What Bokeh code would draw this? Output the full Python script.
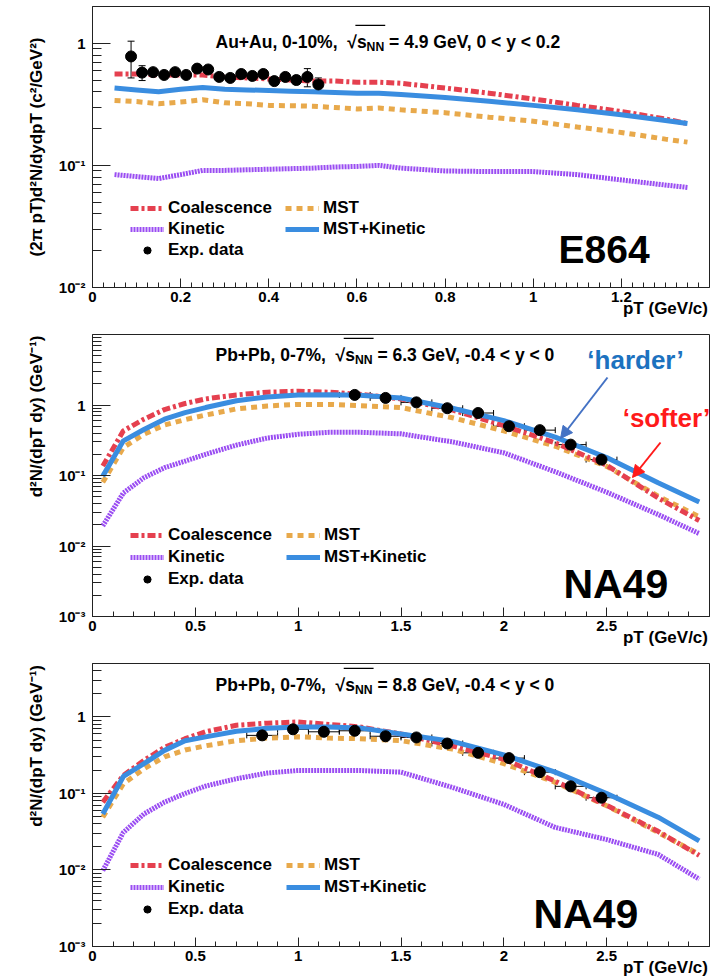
import math
from bokeh.plotting import figure
from bokeh.layouts import column
from bokeh.models import (Range1d, FixedTicker, CustomJSTickFormatter, Label, Legend, LegendItem,
                          Whisker, TeeHead, ColumnDataSource, Arrow, NormalHead, BoxAnnotation)
from bokeh.embed import file_html
from bokeh.resources import INLINE

FONT = "Liberation Sans"
C_COAL = "#E5404F"
C_MST = "#E8A94B"
C_KIN = "#9A4DF2"
C_MK = "#3A8DE0"

# ---------------- E864 (Au+Au 4.9 GeV) ----------------
pt_top = [0.05, 0.10, 0.15, 0.20, 0.25, 0.30, 0.35, 0.40, 0.45, 0.50, 0.55, 0.60, 0.65, 0.70,
          0.80, 0.90, 1.00, 1.10, 1.20, 1.30, 1.35]
coal_top = [0.56, 0.56, 0.55, 0.55, 0.55, 0.53, 0.52, 0.51, 0.50, 0.49, 0.49, 0.48, 0.48, 0.47,
            0.43, 0.39, 0.35, 0.31, 0.276, 0.24, 0.22]
mst_top = [0.34, 0.333, 0.32, 0.33, 0.345, 0.325, 0.32, 0.31, 0.308, 0.305, 0.298, 0.29, 0.295, 0.285,
           0.27, 0.248, 0.23, 0.206, 0.186, 0.164, 0.155]
kin_top = [0.084, 0.081, 0.078, 0.084, 0.091, 0.091, 0.092, 0.093, 0.094, 0.095, 0.097, 0.098, 0.100, 0.095,
           0.090, 0.089, 0.089, 0.084, 0.076, 0.069, 0.066]
mk_top = [0.43, 0.415, 0.40, 0.42, 0.435, 0.42, 0.415, 0.41, 0.405, 0.40, 0.395, 0.39, 0.39, 0.38,
          0.36, 0.335, 0.31, 0.285, 0.26, 0.233, 0.22]
exp_pt_top = [0.0875, 0.1125, 0.1375, 0.1625, 0.1875, 0.2125, 0.2375, 0.2625, 0.2875, 0.3125,
              0.3375, 0.3625, 0.3875, 0.4125, 0.4375, 0.4625, 0.4875, 0.5125]
exp_y_top = [0.78, 0.575, 0.58, 0.55, 0.58, 0.55, 0.62, 0.61, 0.53, 0.52,
             0.56, 0.54, 0.56, 0.49, 0.53, 0.50, 0.53, 0.46]
exp_err_top = [0.26, 0.08, 0.03, 0.03, 0.03, 0.03, 0.03, 0.03, 0.03, 0.03,
               0.03, 0.03, 0.03, 0.03, 0.03, 0.04, 0.09, 0.06]

# ---------------- NA49 (Pb+Pb 6.3 GeV) ----------------
pt_mid = [0.05, 0.15, 0.25, 0.35, 0.45, 0.55, 0.70, 0.85, 1.00, 1.15, 1.30, 1.50, 1.75, 2.00,
          2.25, 2.50, 2.75, 2.95]
coal_mid = [0.136, 0.43, 0.63, 0.86, 1.05, 1.22, 1.39, 1.52, 1.57, 1.52, 1.42, 1.22, 0.85, 0.51,
            0.29, 0.14, 0.048, 0.023]
mst_mid = [0.080, 0.25, 0.385, 0.52, 0.62, 0.72, 0.88, 0.97, 1.02, 1.02, 0.98, 0.92, 0.66, 0.43,
           0.26, 0.135, 0.051, 0.026]
kin_mid = [0.0193, 0.0565, 0.093, 0.129, 0.16, 0.20, 0.27, 0.34, 0.385, 0.41, 0.41, 0.39, 0.30, 0.21,
           0.113, 0.058, 0.028, 0.015]
mk_mid = [0.098, 0.31, 0.45, 0.63, 0.78, 0.92, 1.15, 1.30, 1.39, 1.40, 1.38, 1.26, 0.90, 0.60,
          0.35, 0.18, 0.079, 0.042]
exp_pt_mid = [1.275, 1.425, 1.575, 1.725, 1.875, 2.025, 2.175, 2.325, 2.475]
exp_y_mid = [1.39, 1.26, 1.09, 0.90, 0.77, 0.50, 0.44, 0.274, 0.168]
exp_xerr_mid = [0.075, 0.075, 0.075, 0.075, 0.075, 0.075, 0.075, 0.075, 0.075]

# ---------------- NA49 (Pb+Pb 8.8 GeV) ----------------
pt_bot = [0.05, 0.15, 0.25, 0.35, 0.45, 0.55, 0.70, 0.85, 1.00, 1.15, 1.30, 1.50, 1.75, 2.00,
          2.25, 2.50, 2.75, 2.95]
coal_bot = [0.077, 0.172, 0.27, 0.40, 0.52, 0.64, 0.78, 0.83, 0.86, 0.80, 0.74, 0.60, 0.42, 0.28,
            0.145, 0.07, 0.032, 0.0155]
mst_bot = [0.049, 0.134, 0.21, 0.30, 0.37, 0.42, 0.49, 0.53, 0.55, 0.53, 0.52, 0.49, 0.38, 0.245,
           0.14, 0.069, 0.031, 0.016]
kin_bot = [0.0098, 0.031, 0.054, 0.077, 0.10, 0.125, 0.156, 0.185, 0.20, 0.20, 0.20, 0.19, 0.12, 0.072,
           0.036, 0.025, 0.016, 0.0076]
mk_bot = [0.054, 0.167, 0.245, 0.366, 0.49, 0.55, 0.65, 0.71, 0.74, 0.74, 0.72, 0.60, 0.48, 0.32,
          0.19, 0.10, 0.049, 0.024]
exp_pt_bot = [0.825, 0.975, 1.125, 1.275, 1.425, 1.575, 1.725, 1.875, 2.025, 2.175, 2.325, 2.475]
exp_y_bot = [0.575, 0.69, 0.64, 0.66, 0.56, 0.54, 0.45, 0.34, 0.29, 0.19, 0.124, 0.088]
exp_xerr_bot = [0.075, 0.075, 0.075, 0.075, 0.075, 0.075, 0.075, 0.075, 0.075, 0.075, 0.075, 0.075]

LEGEND_LABELS = ["Coalescence", "MST", "Kinetic", "MST+Kinetic", "Exp. data"]
XTITLE = "pT (GeV/c)"
YTITLE_TOP = "(2π pT)d²N/dydpT (c²/GeV²)"
YTITLE_NA49 = "d²N/(dpT dy) (GeV⁻¹)"

# Arial/Liberation Sans Bold advance widths (1/1000 em)
W = {' ': 278, '\u00a0': 278, '(': 333, ')': 333, '+': 584, ',': 278, '-': 333, '.': 278, '/': 278,
     '<': 584, '=': 584, '>': 584, '%': 889, 'π': 600, '√': 549, '²': 333, '⁻': 333, '¹': 333}
for ch in "0123456789":
    W[ch] = 556
W.update(dict(zip("ABCDEFGHIJKLMNOPQRSTUVWXYZ",
                  [722, 722, 722, 722, 667, 611, 778, 722, 278, 556, 722, 611, 833, 722, 778, 667,
                   778, 722, 667, 611, 722, 667, 944, 667, 667, 611])))
W.update(dict(zip("abcdefghijklmnopqrstuvwxyz",
                  [556, 611, 556, 611, 556, 333, 611, 611, 278, 278, 556, 278, 889, 611, 611, 611,
                   611, 389, 556, 333, 611, 556, 778, 556, 556, 500])))


def tw(s, size):
    return sum(W.get(c, 600) for c in s) / 1000.0 * size


def small(size):
    return round(size * 0.7, 1)


def rich(p, pieces, x0, y0, size, color="black"):
    pos = 0.0
    for txt, kind in pieces:
        fs = size if kind == "n" else small(size)
        off = {"n": 0.0, "sub": -0.32 * size, "sup": 0.42 * size}[kind]
        stripped = txt.lstrip(" ")
        pos += (len(txt) - len(stripped)) * W[' '] / 1000.0 * fs
        core = stripped.rstrip(" ")
        if core:
            p.add_layout(Label(x=x0 + pos, y=y0 + off, x_units="screen", y_units="screen", text=core,
                               text_font=FONT, text_font_style="bold", text_font_size=f"{fs}px",
                               text_color=color, text_align="left", text_baseline="alphabetic"))
        pos += tw(stripped, fs)
    return pos


def header(p, pre, post, x0, y0, size):
    rich(p, [(pre, "n"), ("√", "n"), ("s", "n"), ("NN", "sub"), (post, "n")], x0, y0, size)
    xs = x0 + tw(pre + "√", size) - 1.5
    xe = x0 + tw(pre + "√s", size) + tw("NN", small(size)) + 1
    top = y0 + 0.74 * size + 2.5
    p.add_layout(BoxAnnotation(left=xs, right=xe, bottom=top, top=top + 1.4,
                               left_units="screen", right_units="screen",
                               bottom_units="screen", top_units="screen",
                               fill_color="black", fill_alpha=1.0, line_alpha=0.0))


def set_axis_title(ax, text, where, frame_len, size):
    """where: 'end' (ROOT style: flush with right / top end of the axis) or 'center'."""
    ax.axis_label_text_font = FONT
    ax.axis_label_text_font_style = "bold"
    ax.axis_label_text_font_size = f"{size}px"
    ax.axis_label_text_color = "black"
    if where == "center":
        ax.axis_label = text
        return
    w = tw(text, size)
    n = max(0, int(round((frame_len - w - 4) / (W['\u00a0'] / 1000.0 * size))))
    ax.axis_label = "\u00a0" * n + text


YFMT = CustomJSTickFormatter(code="""
const e = Math.round(Math.log10(tick));
if (e === 0) { return "1"; }
const sup = {"-": "\\u207b", "0": "\\u2070", "1": "\\u00b9", "2": "\\u00b2", "3": "\\u00b3"};
return "10" + String(e).split("").map(c => sup[c]).join("");
""")
XFMT = CustomJSTickFormatter(code="return String(Math.round(tick * 100) / 100);")


def make_panel(pt, coal, mst, kin, mk, xmax, ymin, ymax, xmajor, xminor_step,
               height, btop, bbot):
    p = figure(width=718, height=height, x_range=Range1d(0, xmax), y_range=Range1d(ymin, ymax),
               y_axis_type="log", output_backend="svg", toolbar_location=None,
               min_border_left=92, min_border_right=9, min_border_top=btop, min_border_bottom=bbot)
    p.xgrid.visible = False
    p.ygrid.visible = False
    p.outline_line_color = "#222222"
    p.outline_line_width = 1
    p.background_fill_color = "white"
    p.border_fill_color = "white"

    nmin = int(round(xmax / xminor_step))
    p.xaxis.ticker = FixedTicker(ticks=xmajor, minor_ticks=[i * xminor_step for i in range(nmin + 1)])
    p.xaxis.formatter = XFMT
    ymaj = [10.0 ** e for e in range(-3, 1) if ymin <= 10.0 ** e <= ymax]
    ymin_t = [m * 10.0 ** e for e in range(-3, 1) for m in range(2, 10) if ymin <= m * 10.0 ** e <= ymax]
    p.yaxis.ticker = FixedTicker(ticks=ymaj, minor_ticks=ymin_t)
    p.yaxis.formatter = YFMT
    for ax, mj, mn, so in ((p.xaxis[0], 9, 5, 4), (p.yaxis[0], 18, 9, 7)):
        ax.axis_line_color = "#222222"
        ax.major_tick_line_color = "#222222"
        ax.minor_tick_line_color = "#222222"
        ax.major_tick_in = mj
        ax.major_tick_out = 0
        ax.minor_tick_in = mn
        ax.minor_tick_out = 0
        ax.major_label_text_font = FONT
        ax.major_label_text_font_style = "bold"
        ax.major_label_text_font_size = "15px"
        ax.major_label_text_color = "black"
        ax.major_label_standoff = so
    p.xaxis[0].axis_label_standoff = -6
    p.yaxis[0].axis_label_standoff = 10

    r_kin = p.line(pt, kin, line_color=C_KIN, line_width=5, line_dash="2 1")
    r_mst = p.line(pt, mst, line_color=C_MST, line_width=5, line_dash="6 5")
    r_coal = p.line(pt, coal, line_color=C_COAL, line_width=5, line_dash="8 3 3 3")
    r_mk = p.line(pt, mk, line_color=C_MK, line_width=5)
    return p, r_coal, r_mst, r_kin, r_mk


def add_legend(p, rends, loc, spacing):
    r_coal, r_mst, r_kin, r_mk, r_exp = rends
    items = [LegendItem(label=LEGEND_LABELS[0], renderers=[r_coal]),
             LegendItem(label=LEGEND_LABELS[2], renderers=[r_kin]),
             LegendItem(label=LEGEND_LABELS[4], renderers=[r_exp]),
             LegendItem(label=LEGEND_LABELS[1], renderers=[r_mst]),
             LegendItem(label=LEGEND_LABELS[3], renderers=[r_mk])]
    lg = Legend(items=items, location=loc, ncols=2, padding=0, margin=0, spacing=spacing,
                glyph_width=34, glyph_height=18, label_height=18, label_width=116,
                label_standoff=4, label_text_font=FONT, label_text_font_style="bold",
                label_text_font_size="17px", label_text_color="black",
                border_line_alpha=0, background_fill_alpha=0)
    p.add_layout(lg)


# ================= top panel =================
p1, c1, m1, k1, mk1 = make_panel(pt_top, coal_top, mst_top, kin_top, mk_top, 1.4, 0.01, 2.0,
                                  [0, 0.2, 0.4, 0.6, 0.8, 1.0, 1.2], 0.025, 320, 6, 33)
src1 = ColumnDataSource(dict(x=exp_pt_top, y=exp_y_top,
                             lo=[v - e for v, e in zip(exp_y_top, exp_err_top)],
                             hi=[v + e for v, e in zip(exp_y_top, exp_err_top)]))
p1.add_layout(Whisker(source=src1, base="x", lower="lo", upper="hi", dimension="height",
                      line_color="black", line_width=1,
                      upper_head=TeeHead(size=7, line_color="black", line_width=1),
                      lower_head=TeeHead(size=7, line_color="black", line_width=1)))
e1 = p1.scatter("x", "y", source=src1, size=11, color="black")
add_legend(p1, (c1, m1, k1, mk1, e1), (38, 27), 1)
header(p1, "Au+Au, 0-10%,  ", " = 4.9 GeV, 0 < y < 0.2", 123, 246, 17.5)
p1.add_layout(Label(x=466, y=38, x_units="screen", y_units="screen", text="E864",
                    text_font=FONT, text_font_style="bold", text_font_size="39px",
                    text_color="black", text_baseline="alphabetic"))
set_axis_title(p1.xaxis[0], XTITLE, "end", 617, 17)
set_axis_title(p1.yaxis[0], YTITLE_TOP, "center", 281, 17)

# ================= middle panel =================
p2, c2, m2, k2, mk2 = make_panel(pt_mid, coal_mid, mst_mid, kin_mid, mk_mid, 3.0, 0.001, 10.0,
                                  [0, 0.5, 1.0, 1.5, 2.0, 2.5], 0.1, 330, 14, 34)
src2 = ColumnDataSource(dict(x=exp_pt_mid, y=exp_y_mid,
                             lo=[v - e for v, e in zip(exp_pt_mid, exp_xerr_mid)],
                             hi=[v + e for v, e in zip(exp_pt_mid, exp_xerr_mid)]))
p2.add_layout(Whisker(source=src2, base="y", lower="lo", upper="hi", dimension="width",
                      line_color="black", line_width=1,
                      upper_head=TeeHead(size=6, line_color="black", line_width=1),
                      lower_head=TeeHead(size=6, line_color="black", line_width=1)))
e2 = p2.scatter("x", "y", source=src2, size=11, color="black")
add_legend(p2, (c2, m2, k2, mk2, e2), (38, 27), 2)
header(p2, "Pb+Pb, 0-7%,  ", " = 6.3 GeV, -0.4 < y < 0", 123, 262, 17.5)
p2.add_layout(Label(x=471, y=33, x_units="screen", y_units="screen", text="NA49",
                    text_font=FONT, text_font_style="bold", text_font_size="41px",
                    text_color="black", text_baseline="alphabetic"))
p2.add_layout(Label(x=543, y=257, x_units="screen", y_units="screen", text="\u2018harder\u2019",
                    text_font=FONT, text_font_style="bold", text_font_size="26px",
                    text_color="#1C72BF", text_align="center", text_baseline="middle"))
p2.add_layout(Label(x=574, y=199, x_units="screen", y_units="screen", text="\u2018softer\u2019",
                    text_font=FONT, text_font_style="bold", text_font_size="26px",
                    text_color="#FF1A1A", text_align="center", text_baseline="middle"))
p2.add_layout(Arrow(x_start=515, y_start=239, x_end=468, y_end=178,
                    start_units="screen", end_units="screen", line_color="#4472C4", line_width=2,
                    end=NormalHead(size=12, fill_color="#4472C4", line_color="#4472C4")))
p2.add_layout(Arrow(x_start=568, y_start=174, x_end=540, y_end=139,
                    start_units="screen", end_units="screen", line_color="#FF1A1A", line_width=2,
                    end=NormalHead(size=12, fill_color="#FF1A1A", line_color="#FF1A1A")))
set_axis_title(p2.xaxis[0], XTITLE, "end", 617, 17)
set_axis_title(p2.yaxis[0], YTITLE_NA49, "end", 282, 17)

# ================= bottom panel =================
p3, c3, m3, k3, mk3 = make_panel(pt_bot, coal_bot, mst_bot, kin_bot, mk_bot, 3.0, 0.001, 5.0,
                                  [0, 0.5, 1.0, 1.5, 2.0, 2.5], 0.1, 330, 13, 34)
src3 = ColumnDataSource(dict(x=exp_pt_bot, y=exp_y_bot,
                             lo=[v - e for v, e in zip(exp_pt_bot, exp_xerr_bot)],
                             hi=[v + e for v, e in zip(exp_pt_bot, exp_xerr_bot)]))
p3.add_layout(Whisker(source=src3, base="y", lower="lo", upper="hi", dimension="width",
                      line_color="black", line_width=1,
                      upper_head=TeeHead(size=6, line_color="black", line_width=1),
                      lower_head=TeeHead(size=6, line_color="black", line_width=1)))
e3 = p3.scatter("x", "y", source=src3, size=11, color="black")
add_legend(p3, (c3, m3, k3, mk3, e3), (38, 27), 2)
header(p3, "Pb+Pb, 0-7%,  ", " = 8.8 GeV, -0.4 < y < 0", 123, 262, 17.5)
p3.add_layout(Label(x=441, y=33, x_units="screen", y_units="screen", text="NA49",
                    text_font=FONT, text_font_style="bold", text_font_size="41px",
                    text_color="black", text_baseline="alphabetic"))
set_axis_title(p3.xaxis[0], XTITLE, "end", 617, 17)
set_axis_title(p3.yaxis[0], YTITLE_NA49, "end", 283, 17)

layout = column(p1, p2, p3, spacing=0)
open("out.html", "w").write(file_html(layout, INLINE))
